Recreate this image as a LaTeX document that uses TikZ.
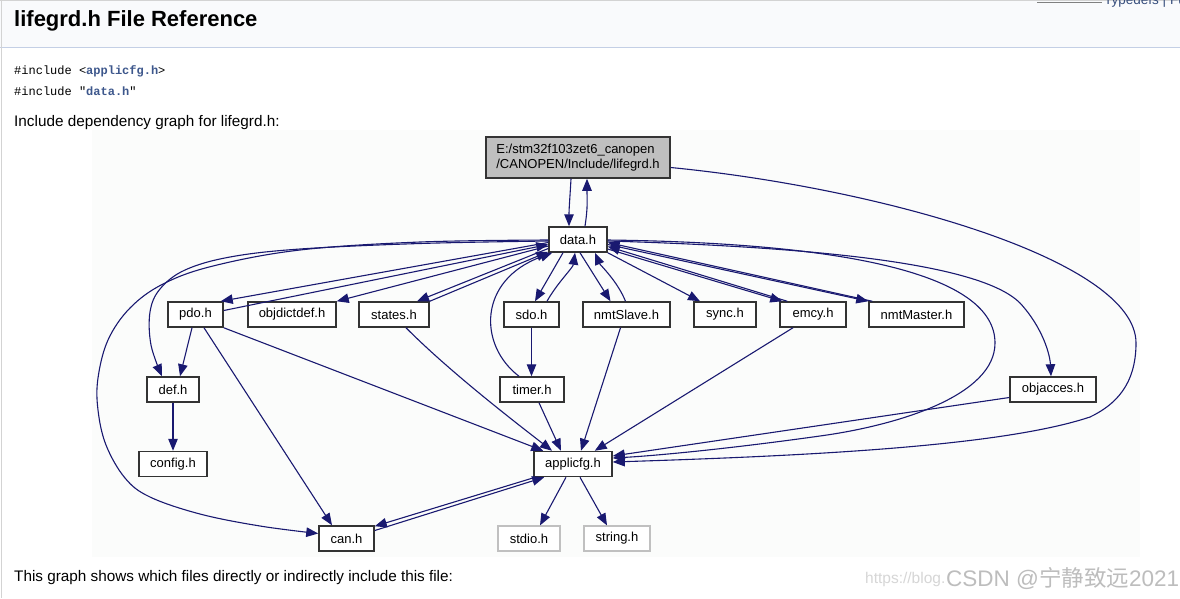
\documentclass[tikz,border=0pt]{standalone}
\usepackage{fontspec}
\setmainfont{Liberation Sans}
\setmonofont{Liberation Mono}
\newfontfamily\cjk{Noto Sans CJK SC}
\usetikzlibrary{arrows.meta,calc}
\definecolor{edgec}{HTML}{191970}
\definecolor{linkc}{HTML}{3D578C}
\definecolor{headbg}{HTML}{F9FAFC}
\definecolor{headline}{HTML}{C4CFE5}
\definecolor{graphbg}{HTML}{FBFCFB}
\definecolor{lifebg}{HTML}{BFBFBF}
\definecolor{sysline}{HTML}{C0C0C0}
\definecolor{frameline}{HTML}{D3D3D3}
\definecolor{wmA}{HTML}{D6D6D6}
\definecolor{wmB}{HTML}{BDBDBD}
\definecolor{menuc}{HTML}{364D7C}
\begin{document}
\begin{tikzpicture}[x=1pt,y=-1pt,
  fbox/.style={draw=black!80, line width=1.5pt, fill=white, inner sep=0pt,
    minimum height=25pt, font=\fontsize{13}{15}\selectfont},
  sysbox/.style={fbox, draw=sysline, line width=1.2pt},
  dep/.style={draw=edgec, line width=1.1pt, -{Triangle[length=12pt,width=9.5pt]}},
  txt/.style={inner sep=0pt, anchor=base west},
]
\useasboundingbox (0,0) rectangle (1180,598);
\fill[white] (0,0) rectangle (1180,598);
\fill[headbg] (0,0) rectangle (1180,47);
\draw[headline, line width=1pt] (0,47) -- (1180,47);
\draw[frameline, line width=1pt] (0,0.5) -- (1180,0.5);
\draw[frameline, line width=1.2pt] (1.5,0) -- (1.5,598);
\draw[gray, line width=1.5pt] (1037,2.5) -- (1102,2.5);
\node[txt, text=menuc, font=\fontsize{13.5}{15}\selectfont] (menu) at (1104,4) {Typedefs | Fu};
\node[txt, font=\fontsize{22}{24}\selectfont\bfseries] (title) at (14,26) {lifegrd.h File Reference};
\node[txt, font=\ttfamily\fontsize{12}{14}\selectfont] (inc1) at (14,74) {\#include <\textcolor{linkc}{\bfseries applicfg.h}>};
\node[txt, font=\ttfamily\fontsize{12}{14}\selectfont] (inc2) at (14,95) {\#include "\textcolor{linkc}{\bfseries data.h}"};
\node[txt, font=\fontsize{15.3}{17}\selectfont] (cap1) at (14,126) {Include dependency graph for lifegrd.h:};
\fill[graphbg] (92,130) rectangle (1140,557);
\node[txt, font=\fontsize{15.3}{17}\selectfont] (cap2) at (14,581) {This graph shows which files directly or indirectly include this file:};
\node[txt, text=wmA, font=\fontsize{15.5}{17}\selectfont] (wm1) at (865,583) {https://blog.};
\node[txt, text=wmB, font=\fontsize{22.5}{25}\selectfont] (wm2) at (946,586) {CSDN @{\cjk 宁静致远}2021};

% nodes
\node[fbox, fill=lifebg, minimum width=184pt, minimum height=41pt, align=left] (life) at (578,157.5) {E:/stm32f103zet6\_canopen\\/CANOPEN/Include/lifegrd.h};
\node[fbox, minimum width=58pt] (data) at (578,239.5) {data.h};
\node[fbox, minimum width=55pt] (pdo) at (195.5,314.5) {pdo.h};
\node[fbox, minimum width=88pt] (objdictdef) at (292,314.5) {objdictdef.h};
\node[fbox, minimum width=70pt] (states) at (394,314.5) {states.h};
\node[fbox, minimum width=55pt] (sdo) at (531.5,314.5) {sdo.h};
\node[fbox, minimum width=87pt] (nmtSlave) at (626.5,314.5) {nmtSlave.h};
\node[fbox, minimum width=62pt] (sync) at (725,314.5) {sync.h};
\node[fbox, minimum width=66pt] (emcy) at (813,314.5) {emcy.h};
\node[fbox, minimum width=95pt] (nmtMaster) at (916.5,314.5) {nmtMaster.h};
\node[fbox, minimum width=52pt] (def) at (173,389.5) {def.h};
\node[fbox, minimum width=64pt] (timer) at (532,389.5) {timer.h};
\node[fbox, minimum width=86pt] (objacces) at (1053,389.5) {objacces.h};
\node[fbox, minimum width=68pt] (config) at (173,464) {config.h};
\node[fbox, minimum width=78pt] (applicfg) at (573,464) {applicfg.h};
\node[fbox, minimum width=55pt] (can) at (346.5,538.5) {can.h};
\node[sysbox, minimum width=62pt] (stdio) at (529,538.5) {stdio.h};
\node[sysbox, minimum width=66pt] (string) at (617,538.5) {string.h};

% helper coordinates for the long curves
\coordinate (dcan) at ($(data.west)+(0,0.5)$);
\coordinate (ddef) at ($(data.west)+(0,1.5)$);
\coordinate (candst) at ($(can.west)+(0,-5)$);
\coordinate (defdst) at ($(def.north)+(-11,0)$);

% edges
\draw[dep] ($(life.south)+(-7,0)$) .. controls +(-1,18) and +(0,-18) .. ($(data.north)+(-9,0)$);
\draw[dep] ($(data.north)+(7,0)$) .. controls +(3,-20) and +(0,22) .. ($(life.south)+(9,0)$);
\draw[dep] ($(life.east)+(0,10)$) .. controls (880,188) and (1136,260) .. (1136,343)
   .. controls (1136,385) and (1115,405) .. (1090,417)
   .. controls (1000,447) and (800,456) .. ($(applicfg.east)+(0,-2)$);
\draw[dep] ($(data.east)+(0,0.5)$) .. controls (850,243) and (995,275) .. (995,343)
   .. controls (995,395) and (900,425) .. (820,436)
   .. controls (720,450) and (650,456) .. ($(applicfg.east)+(0,-6)$);
\draw[dep] ($(data.east)+(0,1.5)$) .. controls (850,248) and (985,268) .. (1020,303)
   .. controls (1043,328) and (1050,355) .. ($(objacces.north)+(-2,0)$);
\draw[dep] ($(objacces.west)+(0,8)$) -- ($(applicfg.east)+(0,-8)$);
\draw[dep] plot[smooth, tension=0.6] coordinates {(dcan) (420,242) (300,250) (213,266) (163,284) (130,308) (108,340) (98,378) (98,410) (106,445) (125,478) (150,497) (200,514) (260,526) (candst)};
\draw[dep] plot[smooth, tension=0.6] coordinates {(ddef) (420,243.5) (300,249) (230,257) (185,270) (160,289) (150,312) (151,345) (defdst)};
\draw[dep] ($(pdo.south)+(-3.5,0)$) -- ($(def.north)+(7,0)$);
\draw[dep] (def.south) -- (config.north);
\draw[dep] ($(pdo.south)+(8.5,0)$) -- ($(can.north)+(-14.5,0)$);
\draw[dep] (pdo.south east) -- ($(applicfg.north west)+(10,0)$);
\draw[dep] ($(data.west)+(0,3)$) -- ($(pdo.north east)+(-3,0)$);
\draw[dep] ($(pdo.east)+(0,-4)$) -- ($(data.west)+(0,5)$);
\draw[dep] ($(data.west)+(0,6.5)$) -- (objdictdef.north east);
\draw[dep] ($(data.west)+(0,9)$) -- ($(states.north)+(23,0)$);
\draw[dep] (states.north east) -- ($(data.south west)+(0,-1)$);
\draw[dep] ($(states.south)+(12,0)$) .. controls (450,372) and (515,422) .. ($(applicfg.north)+(-21,0)$);
\draw[dep] (sdo.south) -- (sdo.south |- timer.north);
\draw[dep] ($(data.south)+(-15,0)$) -- ($(sdo.north)+(3.5,0)$);
\draw[dep] ($(sdo.north)+(15.5,0)$) .. controls +(10,-18) and +(-2,15) .. ($(data.south)+(-3,0)$);
\draw[dep] ($(timer.north)+(-13,0)$) .. controls (478,345) and (478,280) .. ($(data.south west)+(4,0)$);
\draw[dep] ($(data.south)+(2,0)$) -- ($(nmtSlave.north)+(-16,0)$);
\draw[dep] ($(nmtSlave.north)+(-1,0)$) .. controls +(-8,-20) and +(5,12) .. ($(data.south)+(17,0)$);
\draw[dep] ($(nmtSlave.south)+(-6,0)$) -- ($(applicfg.north)+(8,0)$);
\draw[dep] (data.south east) -- ($(sync.north)+(-25,0)$);
\draw[dep] ($(data.east)+(0,9.5)$) -- ($(emcy.north west)+(3,0)$);
\draw[dep] ($(emcy.north west)+(8,0)$) -- ($(data.east)+(0,7)$);
\draw[dep] ($(data.east)+(0,5)$) -- (nmtMaster.north west);
\draw[dep] ($(nmtMaster.north west)+(4,0)$) -- ($(data.east)+(0,3)$);
\draw[dep] ($(emcy.south)+(-20,0)$) -- ($(applicfg.north east)+(-18,0)$);
\draw[dep] ($(timer.south)+(7,0)$) -- ($(applicfg.north)+(-12,0)$);
\draw[dep] ($(applicfg.south west)+(2,0)$) -- ($(can.north east)+(0,1)$);
\draw[dep] ($(can.east)+(0,-8)$) -- ($(applicfg.south west)+(11,0)$);
\draw[dep] ($(applicfg.south)+(-7,0)$) -- ($(stdio.north)+(11,0)$);
\draw[dep] ($(applicfg.south)+(7,0)$) -- ($(string.north)+(-10,0)$);
\end{tikzpicture}
\end{document}
